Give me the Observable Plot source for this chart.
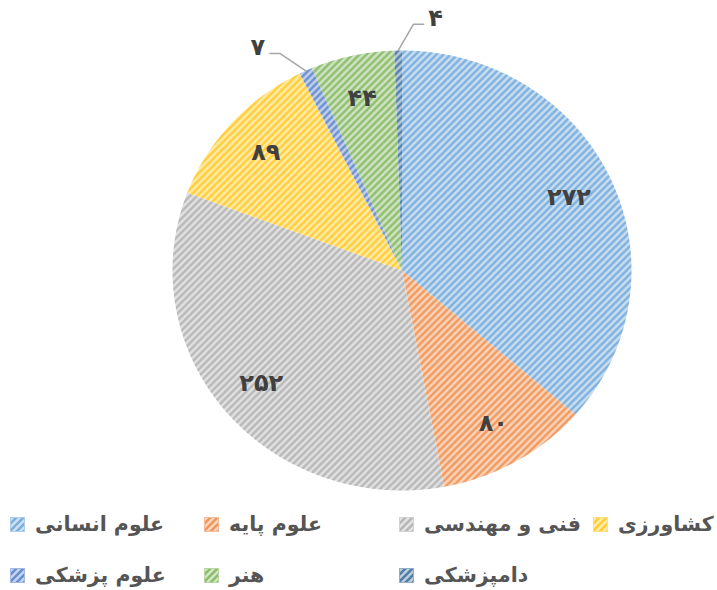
<!DOCTYPE html>
<html>
<head>
<meta charset="utf-8">
<script src="https://cdn.jsdelivr.net/npm/d3@7"></script>
<script src="https://cdn.jsdelivr.net/npm/@observablehq/plot@0.6"></script>
<style>
  body { margin: 0; background: #fff; font-family: "DejaVu Sans", sans-serif; }
  #wrap { width: 717px; overflow: hidden; }
  #legend { position: relative; width: 717px; height: 85px; overflow: hidden; }
  .item { position: absolute; display: flex; align-items: center; white-space: nowrap; transform: translateY(-50%); }
  .item svg { flex: none; }
  .item span { margin-left: 10px; font-weight: bold; font-size: 20.5px; color: #555555; }
</style>
</head>
<body>
<div id="wrap"></div>
<script>
const categories = ["علوم انسانی", "علوم پایه", "فنی و مهندسی", "کشاورزی", "علوم پزشکی", "هنر", "دامپزشکی"];
const values = [272, 80, 252, 89, 7, 44, 4];
const colors = ["#5B9BD5", "#ED7D31", "#A5A5A5", "#FFC000", "#4472C4", "#70AD47", "#255E91"];
const labelSide = [0, 0, 0, 0, -1, 0, 1]; // 0 = inside, -1/1 = outside with leader
const legendRows = [[0, 1, 2, 3], [4, 5, 6]];

const fa = v => String(v).replace(/\d/g, d => "۰۱۲۳۴۵۶۷۸۹"[d]);
const mix = (c, t) => d3.interpolateRgb("#ffffff", c)(t);

const data = categories.map((name, i) => ({name, value: values[i], i}));
const arcs = d3.pie().sort(null).value(d => d.value)(data);

const slicePts = [];
arcs.forEach((a, k) => {
  const n = Math.max(2, Math.ceil((a.endAngle - a.startAngle) / 0.005));
  slicePts.push({k, x: 0, y: 0});
  for (let j = 0; j <= n; j++) {
    const t = a.startAngle + (a.endAngle - a.startAngle) * j / n;
    slicePts.push({k, x: Math.sin(t), y: Math.cos(t)});
  }
  slicePts.push({k, x: 0, y: 0});
});

const inside = [], leaders = [], outside = [];
arcs.forEach((a, k) => {
  const mid = (a.startAngle + a.endAngle) / 2;
  const side = labelSide[k];
  if (side === 0) {
    const r = 0.8;
    inside.push({x: r * Math.sin(mid), y: r * Math.cos(mid), t: fa(a.data.value)});
  } else {
    const e = mid + side * 3.5 * Math.PI / 180, r = 1.12;
    const ex = r * Math.sin(e), ey = r * Math.cos(e);
    leaders.push({k, x: Math.sin(mid), y: Math.cos(mid)});
    leaders.push({k, x: ex, y: ey});
    leaders.push({k, x: ex + side * 0.045, y: ey});
    outside.push({x: ex + side * 0.065, y: ey, t: fa(a.data.value), anchor: side < 0 ? "end" : "start"});
  }
});

const txt = {fontSize: 24, fontWeight: "bold", fill: "#404040", fontFamily: "DejaVu Sans"};
const svg = Plot.plot({
  width: 717,
  height: 505,
  marginLeft: 172,
  marginRight: 86,
  marginTop: 50,
  marginBottom: 15,
  x: {domain: [-1, 1], axis: null},
  y: {domain: [-1, 1], axis: null},
  style: {background: "#fff"},
  marks: [
    Plot.line(slicePts, {x: "x", y: "y", z: "k", fill: d => `url(#pat${d.k})`, stroke: "none", curve: "linear"}),
    Plot.line(leaders, {x: "x", y: "y", z: "k", stroke: "#a6a6a6", strokeWidth: 1.5}),
    Plot.text(inside, {x: "x", y: "y", text: "t", ...txt}),
    Plot.text(outside.filter(d => d.anchor === "end"), {x: "x", y: "y", text: "t", textAnchor: "end", dy: -6, ...txt}),
    Plot.text(outside.filter(d => d.anchor === "start"), {x: "x", y: "y", text: "t", textAnchor: "start", dy: -6, ...txt})
  ]
});

const s = 7;
const defs = colors.map((c, i) => `
  <pattern id="pat${i}" patternUnits="userSpaceOnUse" width="${s}" height="${s}">
    <rect width="${s}" height="${s}" fill="${mix(c, 0.3)}"/>
    <path d="M-1,1 L1,-1 M0,${s} L${s},0 M${s - 1},${s + 1} L${s + 1},${s - 1}" stroke="${mix(c, 0.8)}" stroke-width="2.6"/>
  </pattern>`).join("");
svg.insertAdjacentHTML("afterbegin", `<defs>${defs}</defs>`);

const wrap = document.getElementById("wrap");
wrap.appendChild(svg);

const legend = document.createElement("div");
legend.id = "legend";
const colX = [10, 204, 399, 593];
const rowY = [19, 70];
legendRows.forEach((row, r) => {
  row.forEach((i, c) => {
    const it = document.createElement("div");
    it.className = "item";
    it.style.left = colX[c] + "px";
    it.style.top = rowY[r] + "px";
    it.innerHTML = `<svg width="15" height="15"><rect x="0.5" y="0.5" width="14" height="14" fill="url(#pat${i})" stroke="${mix(colors[i], 0.5)}" stroke-width="1"/></svg><span dir="rtl">${categories[i]}</span>`;
    legend.appendChild(it);
  });
});
wrap.appendChild(legend);
</script>
</body>
</html>
